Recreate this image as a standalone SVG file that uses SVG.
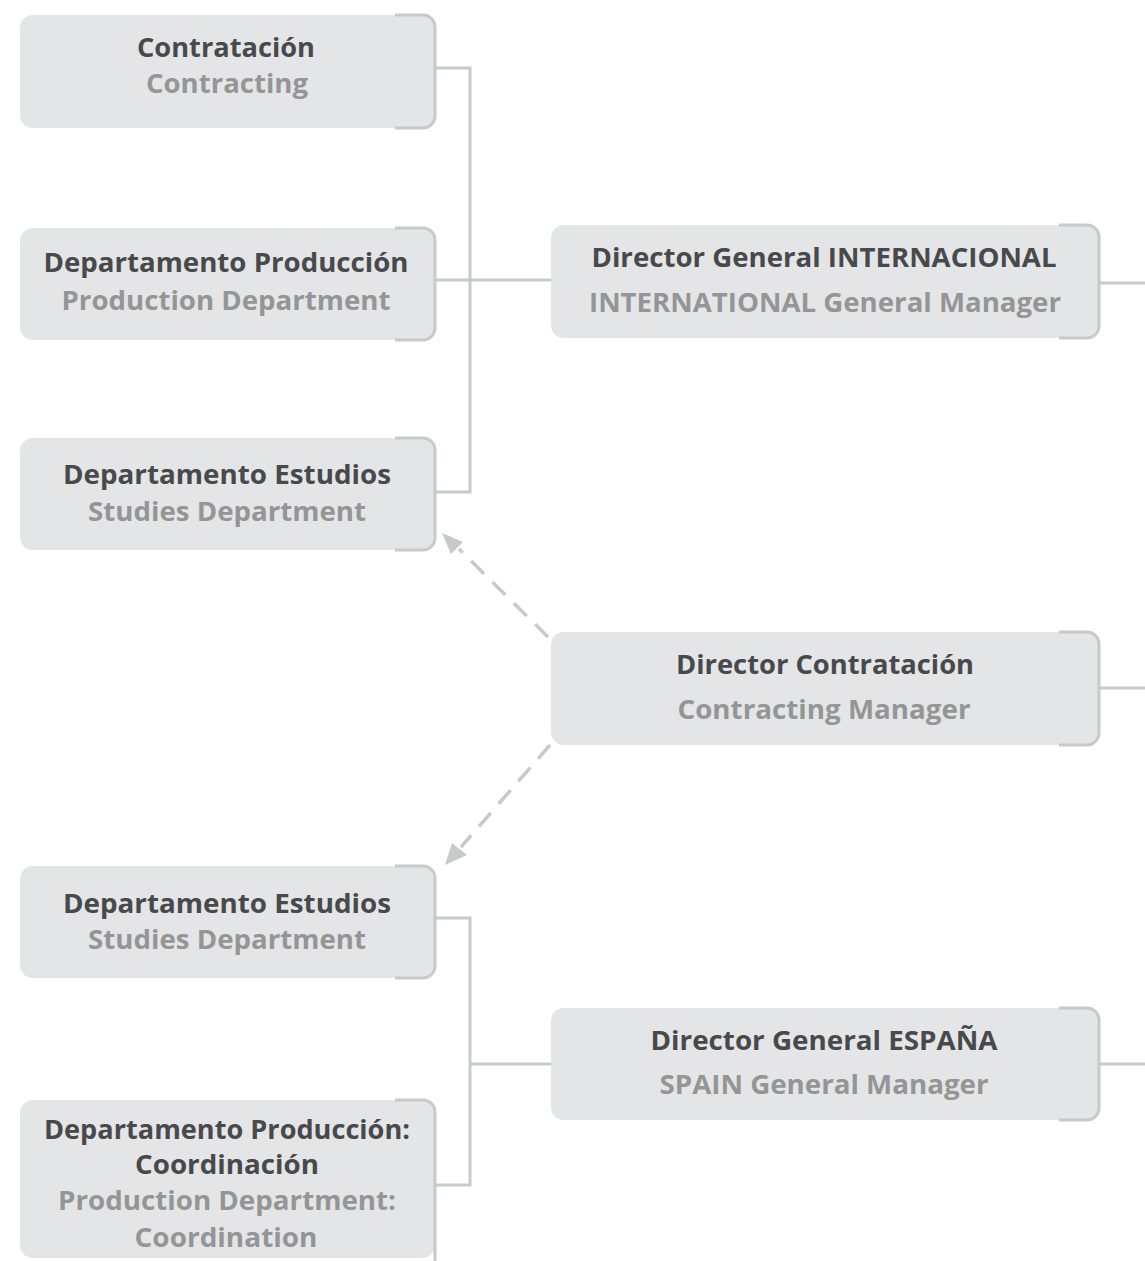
<svg xmlns="http://www.w3.org/2000/svg" width="1145" height="1261" viewBox="0 0 1145 1261">
<defs>
<style>
.box{fill:#e4e5e6}
.br{fill:none;stroke:#c8c9ca;stroke-width:3}
.ln{fill:none;stroke:#c8c9ca;stroke-width:3}
.dash{fill:none;stroke:#c8c9ca;stroke-width:3.5;stroke-dasharray:18 12}
.t1{font-family:"Open Sans","Noto Sans",sans-serif;font-weight:700;font-size:27px;fill:#48494b;text-anchor:middle}
.t2{font-family:"Open Sans","Noto Sans",sans-serif;font-weight:700;font-size:27px;fill:#949596;text-anchor:middle}
</style>
</defs>
<rect width="1145" height="1261" fill="#ffffff"/>
<g id="connectors">
<path class="ln" d="M435,68 H470 V492 H435 M435,280 H551"/>
<path class="ln" d="M435,918 H470 V1185 H435 M470,1064 H551"/>
<path class="ln" d="M1100,283 H1145 M1100,688 H1145 M1100,1064 H1145"/>
<path class="dash" d="M548,637 L459,549"/>
<polygon points="442,533 463,542 451,554" fill="#c8c9ca"/>
<path class="dash" d="M550,745 L461,847"/>
<polygon points="445,865 452,843 467,855" fill="#c8c9ca"/>
</g>
<g id="n-contratacion">
<rect class="box" x="20" y="15" width="415" height="113" rx="13"/>
<path class="br" d="M395,15 H423 A12,12 0 0 1 435,27 V116 A12,12 0 0 1 423,128 H395"/>
<text class="t1" x="226" y="57" textLength="178" lengthAdjust="spacingAndGlyphs">Contratación</text>
<text class="t2" x="227" y="93" textLength="162" lengthAdjust="spacingAndGlyphs">Contracting</text>
</g>
<g id="n-produccion">
<rect class="box" x="20" y="228" width="415" height="112" rx="13"/>
<path class="br" d="M395,228 H423 A12,12 0 0 1 435,240 V328 A12,12 0 0 1 423,340 H395"/>
<text class="t1" x="226" y="272" textLength="365" lengthAdjust="spacingAndGlyphs">Departamento Producción</text>
<text class="t2" x="226" y="310" textLength="329" lengthAdjust="spacingAndGlyphs">Production Department</text>
</g>
<g id="n-estudios1">
<rect class="box" x="20" y="438" width="415" height="112" rx="13"/>
<path class="br" d="M395,438 H423 A12,12 0 0 1 435,450 V538 A12,12 0 0 1 423,550 H395"/>
<text class="t1" x="227" y="484" textLength="328" lengthAdjust="spacingAndGlyphs">Departamento Estudios</text>
<text class="t2" x="227" y="521" textLength="278" lengthAdjust="spacingAndGlyphs">Studies Department</text>
</g>
<g id="n-dg-internacional">
<rect class="box" x="551" y="225" width="548" height="113" rx="13"/>
<path class="br" d="M1059,225 H1087 A12,12 0 0 1 1099,237 V326 A12,12 0 0 1 1087,338 H1059"/>
<text class="t1" x="824" y="267" textLength="465" lengthAdjust="spacingAndGlyphs">Director General INTERNACIONAL</text>
<text class="t2" x="825" y="312" textLength="472" lengthAdjust="spacingAndGlyphs">INTERNATIONAL General Manager</text>
</g>
<g id="n-dir-contratacion">
<rect class="box" x="551" y="632" width="548" height="113" rx="13"/>
<path class="br" d="M1059,632 H1087 A12,12 0 0 1 1099,644 V733 A12,12 0 0 1 1087,745 H1059"/>
<text class="t1" x="825" y="674" textLength="298" lengthAdjust="spacingAndGlyphs">Director Contratación</text>
<text class="t2" x="824" y="719" textLength="293" lengthAdjust="spacingAndGlyphs">Contracting Manager</text>
</g>
<g id="n-estudios2">
<rect class="box" x="20" y="866" width="415" height="112" rx="13"/>
<path class="br" d="M395,866 H423 A12,12 0 0 1 435,878 V966 A12,12 0 0 1 423,978 H395"/>
<text class="t1" x="227" y="913" textLength="328" lengthAdjust="spacingAndGlyphs">Departamento Estudios</text>
<text class="t2" x="227" y="949" textLength="278" lengthAdjust="spacingAndGlyphs">Studies Department</text>
</g>
<g id="n-dg-espana">
<rect class="box" x="551" y="1008" width="548" height="112" rx="13"/>
<path class="br" d="M1059,1008 H1087 A12,12 0 0 1 1099,1020 V1108 A12,12 0 0 1 1087,1120 H1059"/>
<text class="t1" x="824" y="1050" textLength="347" lengthAdjust="spacingAndGlyphs">Director General ESPAÑA</text>
<text class="t2" x="824" y="1094" textLength="329" lengthAdjust="spacingAndGlyphs">SPAIN General Manager</text>
</g>
<g id="n-coordinacion">
<rect class="box" x="20" y="1100" width="415" height="158" rx="13"/>
<path class="br" d="M395,1100 H423 A12,12 0 0 1 435,1112 V1265"/>
<text class="t1" x="227" y="1139" textLength="366" lengthAdjust="spacingAndGlyphs">Departamento Producción:</text>
<text class="t1" x="227" y="1174" textLength="184" lengthAdjust="spacingAndGlyphs">Coordinación</text>
<text class="t2" x="227" y="1210" textLength="338" lengthAdjust="spacingAndGlyphs">Production Department:</text>
<text class="t2" x="226" y="1247" textLength="183" lengthAdjust="spacingAndGlyphs">Coordination</text>
</g>
</svg>
